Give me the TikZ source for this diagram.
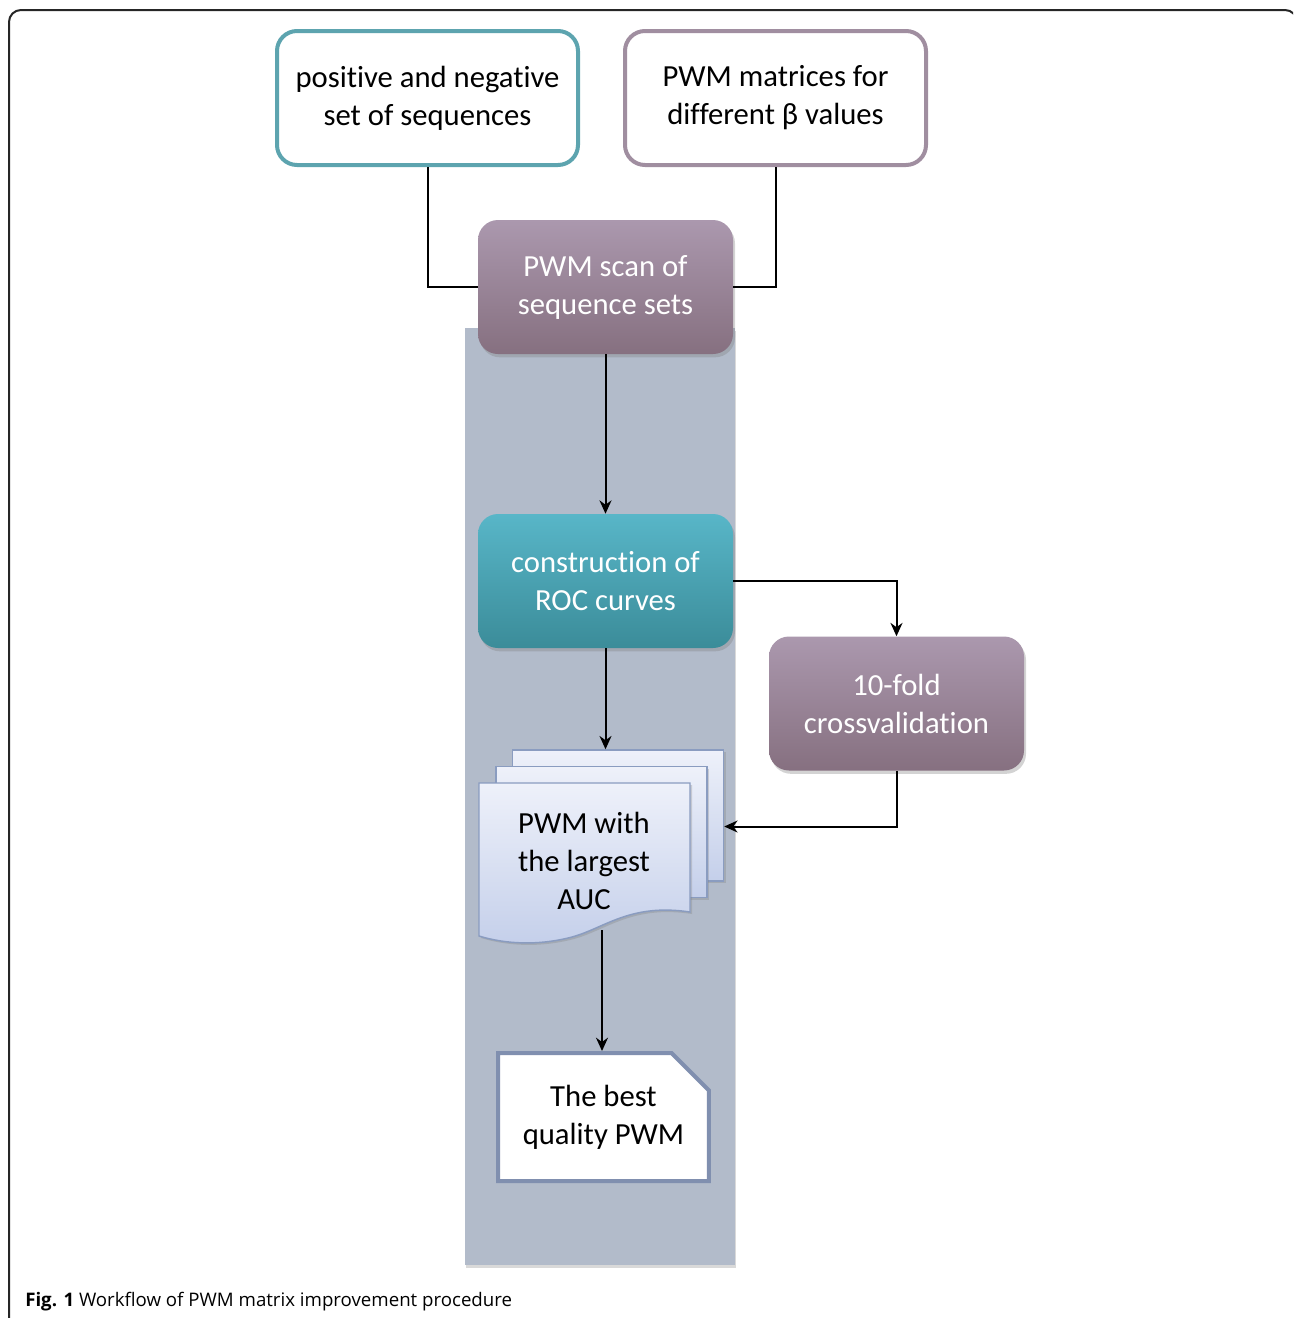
\documentclass[tikz,border=0pt]{standalone}
\usepackage{xcolor}
\usepackage{fontspec}
\setmainfont{Carlito}[Ligatures=NoCommon]
\newfontfamily\capfont{Open Sans}
\usetikzlibrary{arrows.meta,shapes.misc,shadows,calc}

\definecolor{seqedge}{RGB}{93,164,175}
\definecolor{pwmedge}{RGB}{160,142,160}
\definecolor{panelgrey}{RGB}{178,187,202}
\definecolor{scantop}{RGB}{171,152,174}
\definecolor{scanbot}{RGB}{134,112,128}
\definecolor{roctop}{RGB}{88,182,200}
\definecolor{rocbot}{RGB}{59,140,153}
\definecolor{sheettop}{RGB}{238,241,250}
\definecolor{sheetbot}{RGB}{196,207,234}
\definecolor{sheetedge}{RGB}{138,156,192}
\definecolor{bestedge}{RGB}{128,143,175}

\begin{document}
\begin{tikzpicture}[x=0.75pt,y=0.75pt,yscale=-1,xscale=1,
    boxtext/.style={align=center,font=\fontsize{23}{28.5}\selectfont},
    inbox/.style={boxtext,fill=white,line width=3pt,rounded corners=15pt,minimum width=225.75pt,minimum height=100.5pt},
    procbox/.style={boxtext,text=white,rounded corners=15pt,minimum width=191.25pt,minimum height=100.5pt,drop shadow={opacity=0.35,shadow xshift=1.5pt,shadow yshift=-2.5pt}},
    sheet/.style={draw=sheetedge,line width=1.1pt,top color=sheettop,bottom color=sheetbot,drop shadow={opacity=0.3,shadow xshift=1.5pt,shadow yshift=-1.5pt}},
    link/.style={line width=1.5pt},
    flow/.style={link,-{Stealth[length=10pt,width=9pt]}}
    ]

        \useasboundingbox (0,0) rectangle (1293,1318);
        \clip (0,0) rectangle (1293,1318);

        % frame and grey panel
        \draw [line width=1.5pt,rounded corners=9pt,black!85] (9,1340) -- (9,10) -- (1297,10) -- (1297,1340);
        \fill [panelgrey,drop shadow={opacity=0.3,shadow xshift=1pt,shadow yshift=-2.5pt}] (465,328) rectangle (735,1265);

        % inputs
        \draw (427.5,98) node (seqs) [inbox,draw=seqedge] {positive and negative\\set of sequences};
        \draw (775.5,98) node (pwms) [inbox,draw=pwmedge] {PWM matrices for\\different β values};

        % steps
        \draw (605.5,287) node (scan) [procbox,top color=scantop,bottom color=scanbot] {PWM scan of\\sequence sets};
        \draw (605.5,581) node (roc) [procbox,top color=roctop,bottom color=rocbot] {construction of\\ROC curves};
        \draw (896.5,703.5) node (cv) [procbox,top color=scantop,bottom color=scanbot] {10-fold\\crossvalidation};

        % stack of PWM sheets
        \draw (618,815.5) node (sheetC) [sheet,minimum width=158.25pt,minimum height=98.25pt] {};
        \draw (601.5,832) node (sheetB) [sheet,minimum width=158.25pt,minimum height=98.25pt] {};
        \draw [sheet] (479,783) -- (690,783) -- (690,912) .. controls (630,903) and (605,928) .. (572,937) .. controls (538,946) and (505,944) .. (479,936) -- cycle;
        \draw (584,861) node (auc) [boxtext] {PWM with\\the largest\\AUC};
        \coordinate (aucfoot) at (602,930);

        % result
        \draw (603.5,1117) node (best) [boxtext,chamfered rectangle,chamfered rectangle corners=north east,chamfered rectangle sep=14pt,draw=bestedge,line width=3pt,fill=white,minimum width=158pt,minimum height=96pt] {The best\\quality PWM};

        % connectors
        \draw [link] (seqs.south) |- (scan.west);
        \draw [link] (pwms.south) |- (scan.east);
        \draw [flow] (scan.south) -- (roc.north);
        \draw [flow] (roc.east) -| (cv.north);
        \draw [flow] (roc.south) -- (roc.south |- sheetC.north);
        \draw [flow] (cv.south) |- ($(sheetC.east)+(0,11)$);
        \draw [flow] (aucfoot) -- (aucfoot |- best.north);

        \draw (25,1302) node (caption) [anchor=west,inner sep=0pt] {\capfont\fontsize{14}{17}\selectfont\textbf{Fig. 1} Workflow of PWM matrix improvement procedure};
    \end{tikzpicture}
\end{document}
